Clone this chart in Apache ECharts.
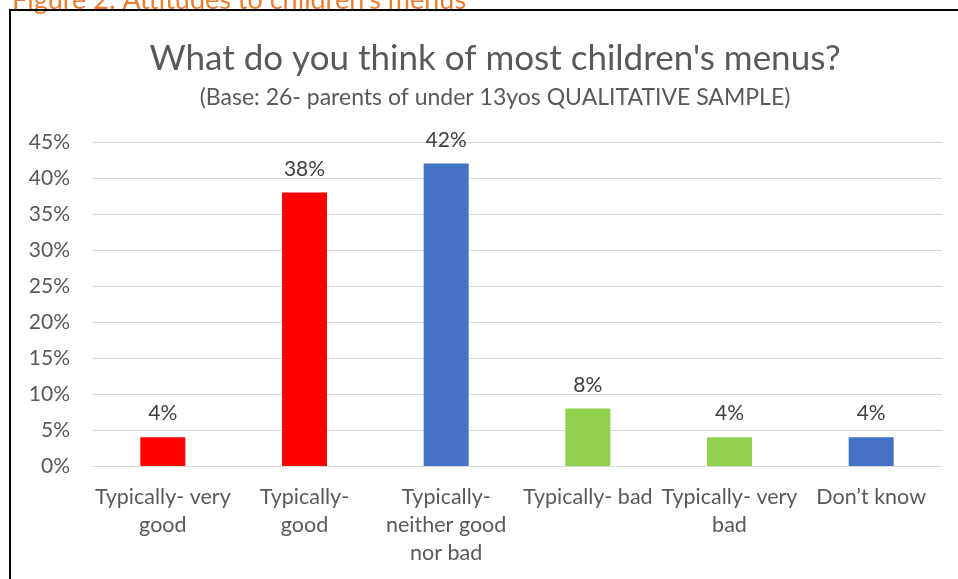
<!DOCTYPE html>
<html><head><meta charset="utf-8">
<script src="https://cdn.jsdelivr.net/npm/echarts@6/dist/echarts.min.js"></script>
<style>html,body{margin:0;padding:0;background:#fff}#c{width:958px;height:579px}</style>
</head><body><div id="c"></div>
<script>
var categories = ["Typically- very good","Typically- good","Typically- neither good nor bad","Typically- bad","Typically- very bad","Don’t know"];
var tickLabels = ["Typically- very\ngood","Typically-\ngood","Typically-\nneither good\nnor bad","Typically- bad","Typically- very\nbad","Don’t know"];
var values = [4,38,42,8,4,4];
var barColors = ["#FF0000","#FF0000","#4472C4","#92D050","#92D050","#4472C4"];
var yTicks = [0,5,10,15,20,25,30,35,40,45];

var font = "Lato, 'Open Sans', sans-serif";
var chart = echarts.init(document.getElementById('c'), null, {renderer:'canvas'});
chart.setOption({
  animation:false,
  backgroundColor:'#fff',
  graphic:[
    {type:'text', left:12, top:-13, style:{text:"Figure 2: Attitudes to children's menus", fill:'#ED7D31', font:'27px '+font}},
    {type:'rect', shape:{x:10,y:10,width:1000,height:600}, style:{fill:'none', stroke:'#000', lineWidth:2}}
  ],
  title:{
    text:"What do you think of most children's menus?",
    subtext:"(Base: 26- parents of under 13yos QUALITATIVE SAMPLE)",
    left:490, textAlign:'center', top:36, itemGap:10,
    textStyle:{fontFamily:font, fontSize:35, fontWeight:'normal', color:'#595959'},
    subtextStyle:{fontFamily:font, fontSize:23, color:'#595959'}
  },
  grid:{left:92, right:16, top:142, bottom:113, containLabel:false},
  xAxis:{
    type:'category', data:categories,
    axisLine:{show:true, lineStyle:{color:'#D9D9D9', width:1}},
    axisTick:{show:false},
    axisLabel:{interval:0, margin:17, fontFamily:font, fontSize:21.5, color:'#595959', lineHeight:28,
      formatter:function(v,i){return tickLabels[i];}}
  },
  yAxis:{
    type:'value', min:0, max:45, interval:5,
    axisLine:{show:false}, axisTick:{show:false},
    axisLabel:{margin:22, fontFamily:font, fontSize:21, color:'#595959', formatter:'{value}%'},
    splitLine:{lineStyle:{color:'#D9D9D9', width:1}}
  },
  series:[{
    type:'bar', barWidth:45,
    data:values.map(function(v,i){return {value:v, itemStyle:{color:barColors[i]}};}),
    label:{show:true, position:'top', distance:13, fontFamily:font, fontSize:21, color:'#404040', formatter:'{c}%'}
  }]
});
</script></body></html>
